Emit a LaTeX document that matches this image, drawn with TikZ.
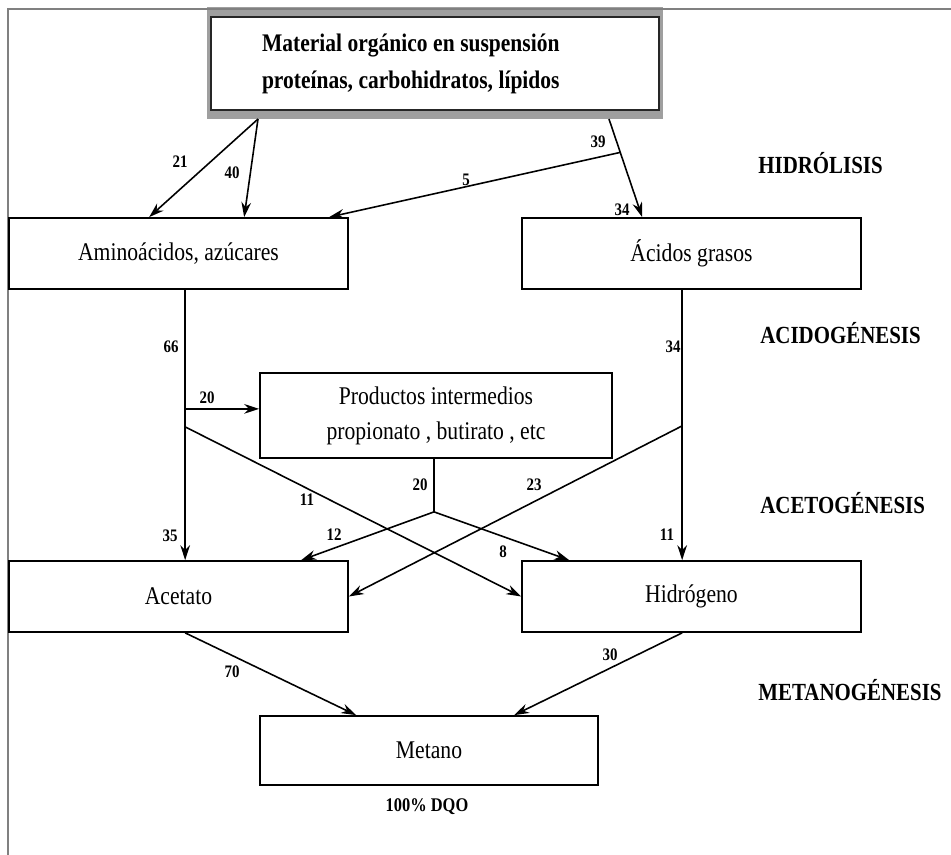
\documentclass[tikz,border=0pt]{standalone}
\usepackage{fontspec}
\setmainfont{Liberation Serif}[FakeStretch=0.85]
\usetikzlibrary{arrows.meta, calc, positioning, backgrounds}

\begin{document}
\begin{tikzpicture}[
    x=0.02cm, y=-0.02cm,
    >=Stealth,
    box/.style={draw, line width=1pt, fill=white, minimum width=6.78cm,
        minimum height=1.42cm, align=center, font=\fontsize{14.5}{20}\selectfont},
    mainbox/.style={draw=black!85, line width=1.2pt, fill=white, text width=6.92cm,
        inner xsep=1.02cm, minimum height=1.86cm, align=left,
        font=\bfseries\fontsize{14.4}{21}\selectfont},
    num/.style={font=\bfseries\fontsize{10}{12}\selectfont, inner sep=1pt},
    stage/.style={font=\bfseries\fontsize{14}{16}\selectfont, anchor=west, inner sep=0pt},
    flow/.style={-{Stealth[length=8.5pt, width=5.5pt]}, line width=0.9pt},
    link/.style={line width=0.9pt}
]
\useasboundingbox (0,0) rectangle (951,855);

% Frame lines
\draw[gray, line width=1pt] (951,9) -- (8,9) -- (8,855);

% Boxes
\node[mainbox] (mat) at (435,63.5) {\spaceskip=0.22em Material orgánico en suspensión\\
    proteínas, carbohidratos, lípidos};
\begin{scope}[on background layer]
    \fill[gray!75] ($(mat.north west)+(-3,-9)$) rectangle ($(mat.south east)+(3,8)$);
\end{scope}

\node[box] (amino) at (178.5,253.5) {Aminoácidos, azúcares};
\node[box] (acidos) at (691.5,253.5) {Ácidos grasos};
\node[box, minimum width=7.04cm, minimum height=1.7cm] (prod) at (436,415.5)
    {Productos intermedios\\ propionato , butirato , etc};
\node[box] (acet) at (178.5,596.5) {Acetato};
\node[box] (hidr) at (691.5,596.5) {Hidrógeno};
\node[box, minimum width=6.76cm, minimum height=1.38cm] (meta) at (429,750.5) {Metano};
\node[num, font=\bfseries\fontsize{11}{13}\selectfont] (dqo) at (427,807) {100\% DQO};

% Stage names
\node[stage] (hidro) at (758,163) {HIDRÓLISIS};
\node[stage] (acido) at (760,333) {ACIDOGÉNESIS};
\node[stage] (aceto) at (760,503) {ACETOGÉNESIS};
\node[stage] (metano) at (758,690) {METANOGÉNESIS};

% Hydrolysis
\coordinate (mA) at ($(mat.south west)+(48,8)$);
\coordinate (mB) at ($(mat.south west)+(399,8)$);
\coordinate (aG) at ($(acidos.north west)+(121,0)$);
\coordinate (br5) at ($(mB)!0.34!(aG)$);
\draw[flow] (mA) -- ($(amino.north west)+(141,0)$);
\draw[flow] (mA) -- ($(amino.north west)+(236,0)$);
\draw[flow] (mB) -- (aG);
\draw[flow] (br5) -- ($(amino.north west)+(321,0)$);
\node[num] (n21) at (180,162) {21};
\node[num] (n40) at (232,173) {40};
\node[num] (n39) at (598,142) {39};
\node[num] (n5) at (466,180) {5};
\node[num] (n34a) at (622,210) {34};

% Acidogenesis
\coordinate (aS) at ($(amino.south west)+(177,0)$);
\coordinate (j20) at ($(aS)+(0,119)$);
\coordinate (j11) at ($(aS)+(0,137)$);
\draw[flow] (aS) -- (aS |- acet.north);
\draw[flow] (j20) -- (j20 -| prod.west);
\draw[flow] (j11) -- (hidr.west);
\coordinate (gS) at ($(acidos.south west)+(161,0)$);
\coordinate (g23) at ($(gS)+(0,136)$);
\draw[flow] (gS) -- (gS |- hidr.north);
\draw[flow] (g23) -- (acet.east);
\node[num] (n66) at (171,347) {66};
\node[num] (n34b) at (673,347) {34};
\node[num] (n20a) at (207,398) {20};

% Acetogenesis
\coordinate (pJ) at ($(prod.south)+(-2,53)$);
\draw[link] (prod.south -| pJ) -- (pJ);
\draw[flow] (pJ) -- ($(acet.north west)+(293,0)$);
\draw[flow] (pJ) -- ($(hidr.north west)+(48,0)$);
\node[num] (n11a) at (307,500) {11};
\node[num] (n20b) at (420,485) {20};
\node[num] (n23) at (534,485) {23};
\node[num] (n35) at (170,536) {35};
\node[num] (n12) at (334,535) {12};
\node[num] (n8) at (503,552) {8};
\node[num] (n11b) at (667,535) {11};

% Methanogenesis
\draw[flow] ($(acet.south west)+(177,0)$) -- ($(meta.north west)+(97,0)$);
\draw[flow] ($(hidr.south west)+(161,0)$) -- ($(meta.north west)+(255,0)$);
\node[num] (n70) at (232,672) {70};
\node[num] (n30) at (610,655) {30};

\end{tikzpicture}
\end{document}
